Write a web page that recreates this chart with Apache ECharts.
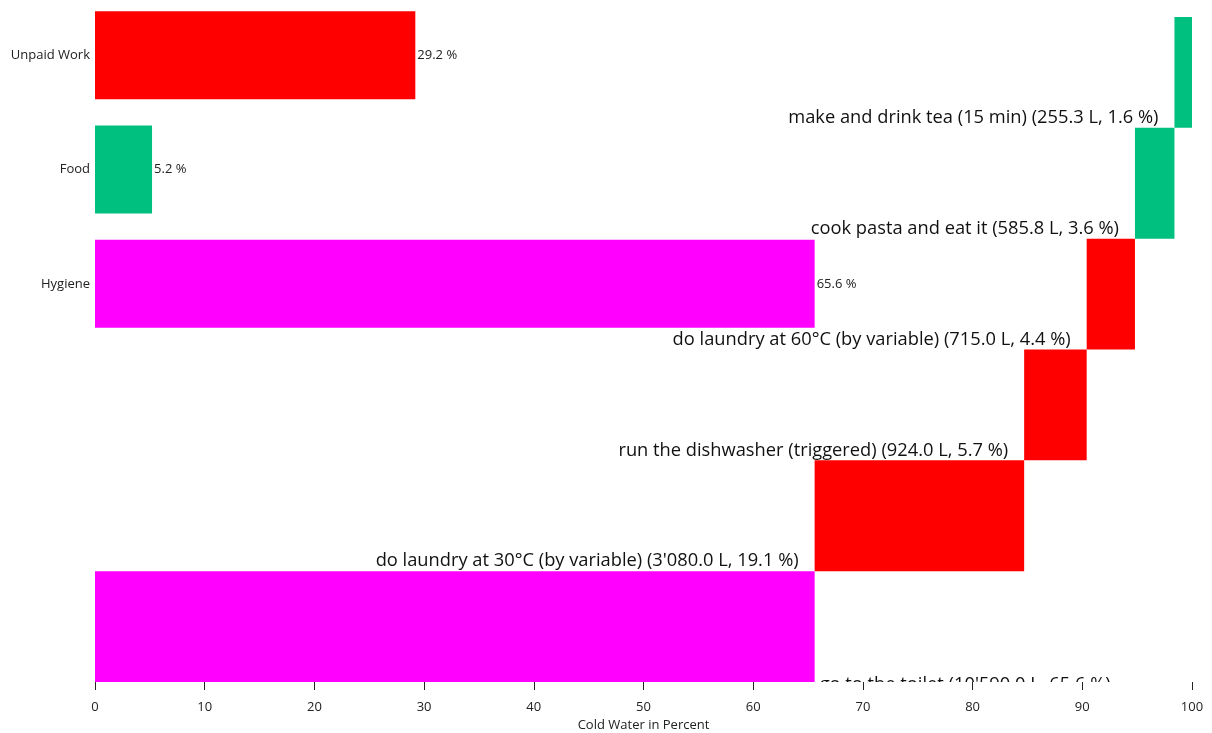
<!DOCTYPE html>
<html>
<head>
<meta charset="utf-8">
<script src="https://cdn.jsdelivr.net/npm/echarts@6/dist/echarts.min.js"></script>
<style>
html,body{margin:0;padding:0;background:#fff;}
#chart{width:1212px;height:733px;}
</style>
</head>
<body>
<div id="chart"></div>
<script>
// ---- data ----
const activities = ['go to the toilet', 'do laundry at 30°C (by variable)', 'run the dishwasher (triggered)', 'do laundry at 60°C (by variable)', 'cook pasta and eat it', 'make and drink tea (15 min)'];
const activityLitres = [10590.0, 3080.0, 924.0, 715.0, 585.8, 255.3];
const activityPercents = [65.6, 19.1, 5.7, 4.4, 3.6, 1.6];
const activityGroups = ['Hygiene', 'Unpaid Work', 'Unpaid Work', 'Unpaid Work', 'Food', 'Food'];
const groupNames = ['Unpaid Work', 'Food', 'Hygiene'];
const groupPercents = [29.2, 5.2, 65.6];
const xTicks = [0, 100, 10]; // min, max, interval

// ---- style ----
const groupColors = { 'Hygiene': '#ff00ff', 'Unpaid Work': '#ff0000', 'Food': '#00c080' };
const FONT = '"Open Sans", "Noto Sans", sans-serif';
const BIG = 18.3;
const SMALL = 13;

function fmtLitres(v) {
  const s = v.toFixed(1);
  const [i, d] = s.split('.');
  return i.replace(/\B(?=(\d{3})+(?!\d))/g, "'") + '.' + d;
}

// waterfall start/end derived from percents
const wfData = [];
let acc = 0;
activities.forEach((a, i) => {
  wfData.push([i, acc, acc + activityPercents[i]]);
  acc += activityPercents[i];
});

const ctx = document.createElement('canvas').getContext('2d');
ctx.font = BIG + 'px ' + FONT;

const chart = echarts.init(document.getElementById('chart'), null, { renderer: 'canvas' });

chart.setOption({
  animation: false,
  grid: [
    { left: 95, right: 20, top: 17, bottom: 51, containLabel: false, outerBoundsMode: 'none' },
    { left: 95, right: 20, top: -2, height: 343, containLabel: false, outerBoundsMode: 'none' }
  ],
  xAxis: [
    {
      gridIndex: 0, type: 'value', min: xTicks[0], max: xTicks[1], interval: xTicks[2],
      axisLine: { show: false },
      axisTick: { show: true, length: 8, lineStyle: { color: '#222' } },
      splitLine: { show: false },
      axisLabel: { color: '#222', fontFamily: FONT, fontSize: SMALL, margin: 19 },
      name: 'Cold Water in Percent', nameLocation: 'middle', nameGap: 33,
      nameTextStyle: { color: '#222', fontFamily: FONT, fontSize: SMALL }
    },
    {
      gridIndex: 1, type: 'value', min: xTicks[0], max: xTicks[1], show: false
    }
  ],
  yAxis: [
    { gridIndex: 0, type: 'category', data: activities, show: false },
    {
      gridIndex: 1, type: 'category', data: groupNames, inverse: true,
      axisLine: { show: false }, axisTick: { show: false },
      axisLabel: { color: '#222', fontFamily: FONT, fontSize: SMALL, margin: 5 }
    }
  ],
  series: [
    {
      type: 'bar', xAxisIndex: 1, yAxisIndex: 1, barWidth: 88,
      data: groupPercents.map((v, i) => ({ value: v, itemStyle: { color: groupColors[groupNames[i]] } })),
      label: {
        show: true, position: 'right', distance: 2, color: '#222',
        fontFamily: FONT, fontSize: SMALL,
        formatter: p => p.value.toFixed(1) + ' %'
      }
    },
    {
      type: 'custom', xAxisIndex: 0, yAxisIndex: 0, clip: true,
      encode: { x: [1, 2], y: 0 },
      data: wfData,
      renderItem: function (params, api) {
        const idx = api.value(0);
        const p0 = api.coord([api.value(1), idx]);
        const p1 = api.coord([api.value(2), idx]);
        const h = api.size([0, 1])[1];
        const top = p0[1] - h / 2, bottom = p0[1] + h / 2;
        const text = activities[idx] + ' (' + fmtLitres(activityLitres[idx]) + ' L, ' + activityPercents[idx].toFixed(1) + ' %)';
        const w = ctx.measureText(text).width;
        const fitsLeft = p0[0] - 16 - w > params.coordSys.x;
        const label = fitsLeft
          ? { x: p0[0] - 16, y: bottom - 10, align: 'right' }
          : { x: p1[0] + 5, y: bottom + 3, align: 'left' };
        return {
          type: 'group',
          children: [
            { type: 'rect', shape: { x: p0[0], y: top, width: p1[0] - p0[0], height: h },
              style: { fill: groupColors[activityGroups[idx]] } },
            { type: 'text', style: { text: text, x: label.x, y: label.y, align: label.align,
              verticalAlign: 'middle', fill: '#111', font: BIG + 'px ' + FONT } }
          ]
        };
      }
    }
  ]
});
</script>
</body>
</html>
